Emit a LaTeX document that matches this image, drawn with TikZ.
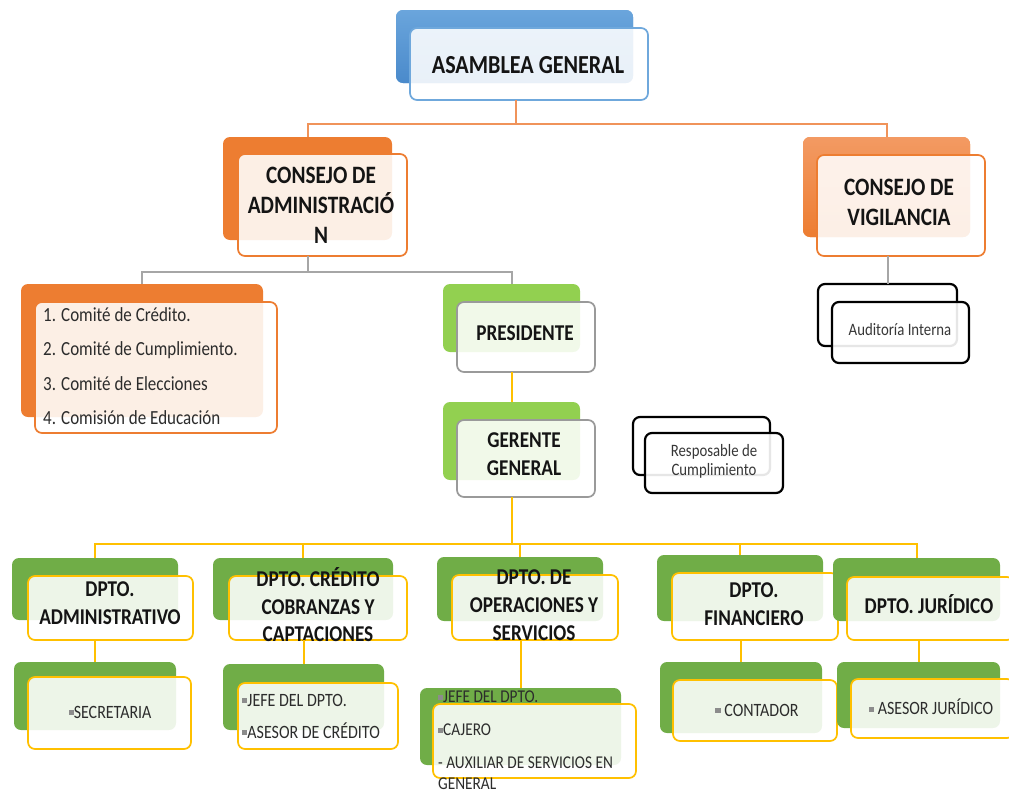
\documentclass[tikz,border=0pt]{standalone}
\usepackage{fontspec}
\setmainfont{Carlito}[FakeStretch=0.85]
\usetikzlibrary{calc}
\definecolor{blueB}{HTML}{5B9BD5}
\definecolor{blueT}{HTML}{6AA5DC}
\definecolor{blueD}{HTML}{4A8ACB}
\definecolor{blueF}{HTML}{6FA8DC}
\definecolor{orgB}{HTML}{ED7D31}
\definecolor{orgT}{HTML}{F39A63}
\definecolor{orgL}{HTML}{F0935A}
\definecolor{grnL}{HTML}{92D050}
\definecolor{grnD}{HTML}{70AD47}
\definecolor{gold}{HTML}{FFC000}
\definecolor{grayL}{HTML}{A6A6A6}
\definecolor{grayF}{HTML}{9A9A9A}
\definecolor{txt}{HTML}{141414}
\definecolor{bul}{HTML}{8C8C8C}
\newcommand\sqb{{\color{bul}\rule[0.3ex]{0.28em}{0.28em}}}
\newcommand\rbox[6]{\node[#1, minimum width={#5-#3}, minimum height={#6-#4}] (#2) at (#3,#4) {};}
\tikzset{
  basebox/.style={rounded corners=7pt, anchor=north west, outer sep=0pt, inner sep=0pt},
  backbox/.style={basebox, fill=#1},
  frontbox/.style={basebox, draw=#1, line width=1.7pt, fill=white, fill opacity=0.88},
  blackback/.style={basebox, draw=black, line width=2.2pt, fill=white},
  blackfront/.style={basebox, draw=black, line width=2.2pt, fill=white, fill opacity=0.9},
  bighead/.style={font=\fontsize{26}{30}\selectfont\bfseries, align=center, inner sep=0pt, text=txt},
  head/.style={font=\fontsize{25}{30}\selectfont\bfseries, align=center, inner sep=0pt, text=txt},
  dhead/.style={font=\fontsize{22.6}{28.5}\selectfont\bfseries, align=center, inner sep=0pt, text=txt},
  ltext/.style={font=\fontsize{20}{34.5}\selectfont, align=left, anchor=west, inner sep=0pt, text=txt!90},
  stext/.style={font=\fontsize{18.8}{32}\selectfont, inner sep=0pt, text=txt!90},
  smtext/.style={font=\fontsize{17.4}{19}\selectfont, align=center, inner sep=0pt, text=txt!85},
  oline/.style={draw=orgL, line width=2pt},
  gline/.style={draw=grayL, line width=2pt},
  yline/.style={draw=gold, line width=2pt},
}
\begin{document}
\begin{tikzpicture}[x=1pt,y=-1pt]
\useasboundingbox (0,0) rectangle (1009,795);
\clip (0,0) rectangle (1009,795);
% ---------- top level
\rbox{backbox=blueB, top color=blueT, bottom color=blueD}{asmB}{396}{10}{633}{83}
\rbox{frontbox=blueF}{asmF}{410}{28}{648}{100}
\node[bighead] (asmT) at (528,65) {ASAMBLEA GENERAL};

\rbox{backbox=orgB}{cadmB}{223}{137}{392}{240}
\rbox{frontbox=orgB}{cadmF}{238}{154}{407}{256}
\node[head] (cadmT) at (321,205) {CONSEJO DE\\ADMINISTRACIÓ\\N};

\rbox{backbox=orgB, top color=orgT, bottom color=orgB}{vigB}{803}{137}{970}{237}
\rbox{frontbox=orgB}{vigF}{817}{155}{985}{256}
\node[head] (vigT) at (899,202) {CONSEJO DE\\VIGILANCIA};

% ---------- second level
\rbox{backbox=orgB}{comB}{21}{284}{263}{417}
\rbox{frontbox=orgB}{comF}{35}{302}{277}{433}
\node[ltext] (comT) at (43,366) {1. Comité de Crédito.\\2. Comité de Cumplimiento.\\3. Comité de Elecciones\\4. Comisión de Educación};

\rbox{backbox=grnL}{presB}{443}{284}{580}{352}
\rbox{frontbox=grayF}{presF}{457}{302}{595}{372}
\node[dhead] (presT) at (525,333) {PRESIDENTE};

\rbox{backbox=grnL}{gerB}{443}{402}{580}{480}
\rbox{frontbox=grayF}{gerF}{457}{420}{595}{497}
\node[dhead] (gerT) at (524,454) {GERENTE\\GENERAL};

\rbox{blackback}{audB}{818}{284}{957}{346}
\rbox{blackfront}{audF}{832}{302}{969}{363}
\node[smtext] (audT) at (900,330) {Auditoría Interna};

\rbox{blackback}{respB}{633}{417}{770}{475}
\rbox{blackfront}{respF}{645}{433}{783}{493}
\node[smtext] (respT) at (714,461) {Resposable de\\Cumplimiento};

% ---------- departments
\rbox{backbox=grnD}{admB}{12}{558}{178}{620}
\rbox{frontbox=gold}{admF}{28}{576}{193}{640}
\node[dhead] (admT) at (110,603) {DPTO.\\ADMINISTRATIVO};

\rbox{backbox=grnD}{credB}{213}{558}{393}{620}
\rbox{frontbox=gold}{credF}{229}{576}{407}{640}
\node[dhead, font=\fontsize{22.6}{27.5}\selectfont\bfseries] (credT) at (318,605) {DPTO. CRÉDITO\\COBRANZAS Y\\CAPTACIONES};

\rbox{backbox=grnD}{opB}{437}{557}{603}{621}
\rbox{frontbox=gold}{opF}{452}{575}{618}{640}
\node[dhead, font=\fontsize{22.6}{28}\selectfont\bfseries] (opT) at (534,605) {DPTO. DE\\OPERACIONES Y\\SERVICIOS};

\rbox{backbox=grnD}{finB}{657}{555}{823}{621}
\rbox{frontbox=gold}{finF}{672}{573}{838}{640}
\node[dhead] (finT) at (754,604) {DPTO.\\FINANCIERO};

\rbox{backbox=grnD}{jurB}{833}{558}{1000}{621}
\rbox{frontbox=gold}{jurF}{847}{577}{1014}{640}
\node[dhead] (jurT) at (929,604) {DPTO. JURÍDICO};

% ---------- sub units
\rbox{backbox=grnD}{secB}{14}{662}{176}{730}
\rbox{frontbox=gold}{secF}{28}{677}{191}{749}
\node[stext] (secT) at (110,712) {\sqb SECRETARIA};

\rbox{backbox=grnD}{crsB}{223}{664}{384}{730}
\rbox{frontbox=gold}{crsF}{238}{683}{398}{749}
\node[stext, align=left, anchor=west] (crsT) at (242,716) {\sqb JEFE DEL DPTO.\\\sqb ASESOR DE CRÉDITO};

\rbox{backbox=grnD}{opsB}{420}{688}{621}{765}
\rbox{frontbox=gold}{opsF}{433}{704}{636}{778}
\node[stext, align=left, anchor=west, font=\fontsize{18}{33}\selectfont] (opsT) at (438,740) {\sqb JEFE DEL DPTO.\\\sqb CAJERO\\- AUXILIAR DE SERVICIOS EN\\[-12pt]GENERAL};

\rbox{backbox=grnD}{conB}{660}{662}{822}{733}
\rbox{frontbox=gold}{conF}{673}{680}{837}{741}
\node[stext] (conT) at (757,710) {\sqb\ CONTADOR};

\rbox{backbox=grnD}{ajB}{837}{662}{1000}{728}
\rbox{frontbox=gold}{ajF}{851}{679}{1014}{738}
\node[stext] (ajT) at (931,707) {\sqb\ ASESOR JURÍDICO};

% ---------- connectors
\coordinate (busA) at (516,124);
\draw[oline] (asmF.south -| busA) -- (busA);
\draw[oline] (cadmB.north) |- (busA) -| (vigB.north);

\coordinate (busB) at (308,272);
\draw[gline] (cadmB.center |- cadmF.south) -- (cadmB.center |- busB);
\draw[gline] (comB.north) |- (busB) -| (presB.north);
\draw[gline] (audB.north |- vigF.south) -- (audB.north);

\draw[yline] (presB.center |- presF.south) -- (gerB.north);

\coordinate (busC) at (513,544);
\draw[yline] (gerB.center |- gerF.south) -- (gerB.center |- busC);
\draw[yline] (admB.north) |- (busC) -| (jurB.north);
\draw[yline] (credB.north |- busC) -- (credB.north);
\draw[yline] (opB.north |- busC) -- (opB.north);
\draw[yline] (finB.north |- busC) -- (finB.north);

\draw[yline] (secB.north |- admF.south) -- (secB.north);
\draw[yline] (crsB.north |- credF.south) -- (crsB.north);
\draw[yline] (opsB.north |- opF.south) -- (opsB.north);
\draw[yline] (conB.north |- finF.south) -- (conB.north);
\draw[yline] (ajB.north |- jurF.south) -- (ajB.north);
\end{tikzpicture}
\end{document}
